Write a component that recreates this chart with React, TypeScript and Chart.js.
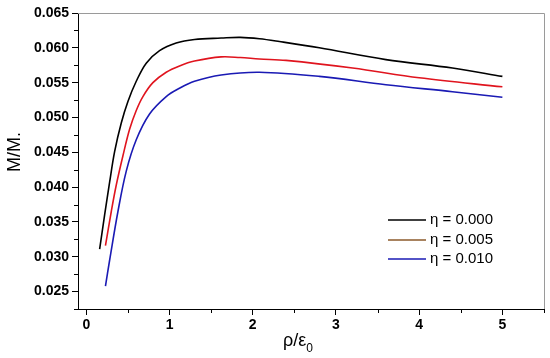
import React, { useEffect, useRef } from "react";
import { Chart, registerables } from "chart.js";

Chart.register(...registerables);

const seriesLabels = ["η = 0.000", "η = 0.005", "η = 0.010"];
const lineColors = ["#000000", "#e0141e", "#1a1ab4"];
const legendColors = ["#000000", "#8b5a2b", "#1a1ab4"];

const xEta000 = [0.16, 0.22, 0.28, 0.34, 0.42, 0.5, 0.6, 0.72, 0.88, 1.08, 1.3, 1.62, 1.85, 2.08, 2.32, 2.8, 3.6, 4.4, 5.0];
const yEta000 = [0.0311, 0.036, 0.0407, 0.0451, 0.0492, 0.0523, 0.0552, 0.0578, 0.0596, 0.0607, 0.0612, 0.0614, 0.0615, 0.0613, 0.0609, 0.06, 0.0583, 0.0571, 0.0559];

const xEta005 = [0.23, 0.3, 0.36, 0.44, 0.52, 0.6, 0.68, 0.8, 0.96, 1.12, 1.3, 1.62, 1.85, 2.08, 2.4, 3.2, 4.0, 5.0];
const yEta005 = [0.0316, 0.0365, 0.0403, 0.0445, 0.0483, 0.051, 0.053, 0.055, 0.0565, 0.0574, 0.0581, 0.0587, 0.0586, 0.0584, 0.0582, 0.0571, 0.0557, 0.0544];

const xEta010 = [0.23, 0.28, 0.38, 0.48, 0.6, 0.76, 0.96, 1.12, 1.3, 1.62, 2.08, 2.8, 3.6, 4.4, 5.0];
const yEta010 = [0.0258, 0.0295, 0.0365, 0.0423, 0.0468, 0.0505, 0.053, 0.0542, 0.0552, 0.0561, 0.0565, 0.0559, 0.0547, 0.0537, 0.0529];

const xMajorTicks = [0, 1, 2, 3, 4, 5];
const xMinorTicks = [0.5, 1.5, 2.5, 3.5, 4.5, 5.5];
const yMajorTicks = [0.025, 0.03, 0.035, 0.04, 0.045, 0.05, 0.055, 0.06, 0.065];
const yMinorTicks = [0.0225, 0.0275, 0.0325, 0.0375, 0.0425, 0.0475, 0.0525, 0.0575, 0.0625];

const xTitleMain = "ρ/ε";
const xTitleSub = "0";
const yTitle = "M/M.";

const FONT = "Arial, 'Liberation Sans', sans-serif";

function zip(xs: number[], ys: number[]) {
  return xs.map((x, i) => ({ x, y: ys[i] }));
}

const decorPlugin = {
  id: "decor",
  afterDraw(chart: any) {
    const ctx = chart.ctx;
    const { left, right, top, bottom } = chart.chartArea;
    const xs = chart.scales.x;
    const ys = chart.scales.y;
    ctx.save();
    ctx.strokeStyle = "#9a9a9a";
    ctx.lineWidth = 1;
    ctx.beginPath();
    ctx.moveTo(left, Math.round(top) + 0.5);
    ctx.lineTo(Math.round(right) + 0.5, Math.round(top) + 0.5);
    ctx.lineTo(Math.round(right) + 0.5, bottom);
    ctx.stroke();
    ctx.strokeStyle = "#000";
    ctx.beginPath();
    xMinorTicks.forEach((v) => {
      const px = Math.round(xs.getPixelForValue(v)) + 0.5;
      ctx.moveTo(px, bottom);
      ctx.lineTo(px, bottom + 4);
    });
    yMinorTicks.forEach((v) => {
      const py = Math.round(ys.getPixelForValue(v)) + 0.5;
      ctx.moveTo(left, py);
      ctx.lineTo(left - 4, py);
    });
    ctx.stroke();
    ctx.fillStyle = "#000";
    ctx.textBaseline = "alphabetic";
    ctx.font = `18px ${FONT}`;
    const wMain = ctx.measureText(xTitleMain).width;
    ctx.font = `12px ${FONT}`;
    const wSub = ctx.measureText(xTitleSub).width;
    const cx = 298;
    const startX = cx - (wMain + wSub) / 2;
    ctx.font = `18px ${FONT}`;
    ctx.textAlign = "left";
    ctx.fillText(xTitleMain, startX, 346);
    ctx.font = `12px ${FONT}`;
    ctx.fillText(xTitleSub, startX + wMain, 352);
    ctx.save();
    ctx.translate(20, 152);
    ctx.rotate(-Math.PI / 2);
    ctx.font = `18px ${FONT}`;
    ctx.textAlign = "center";
    ctx.fillText(yTitle, 0, 0);
    ctx.restore();
    const rows = [220, 240, 259];
    ctx.font = `15px ${FONT}`;
    ctx.textAlign = "left";
    ctx.textBaseline = "middle";
    chart.data.datasets.forEach((ds: any, i: number) => {
      ctx.strokeStyle = legendColors[i];
      ctx.lineWidth = 1.6;
      ctx.beginPath();
      ctx.moveTo(388, rows[i]);
      ctx.lineTo(426, rows[i]);
      ctx.stroke();
      ctx.fillStyle = "#000";
      ctx.fillText(ds.label, 430, rows[i]);
    });
    ctx.restore();
  },
};

export default function App() {
  const ref = useRef<HTMLCanvasElement | null>(null);
  useEffect(() => {
    document.body.style.margin = "0";
    if (!ref.current) return;
    const xsArr = [xEta000, xEta005, xEta010];
    const ysArr = [yEta000, yEta005, yEta010];
    const chart = new Chart(ref.current, {
      type: "line",
      data: {
        datasets: seriesLabels.map((label, i) => ({
          label,
          data: zip(xsArr[i], ysArr[i]),
          borderColor: lineColors[i],
          backgroundColor: lineColors[i],
          borderWidth: 1.6,
          pointRadius: 0,
          tension: 0.35,
          fill: false,
        })),
      },
      options: {
        animation: false,
        responsive: false,
        maintainAspectRatio: false,
        layout: { padding: { top: 13, right: 6, left: 0, bottom: 0 } },
        plugins: { legend: { display: false }, tooltip: { enabled: false } },
        scales: {
          x: {
            type: "linear",
            min: -0.1,
            max: 5.5,
            afterBuildTicks: (s: any) => {
              s.ticks = xMajorTicks.map((v) => ({ value: v }));
            },
            afterFit: (s: any) => {
              s.height = 49;
            },
            grid: { display: true, drawOnChartArea: false, drawTicks: true, tickLength: 6, color: "#000" },
            border: { display: true, color: "#000", width: 1 },
            ticks: {
              color: "#000",
              padding: 2,
              maxRotation: 0,
              font: { family: FONT, size: 14, weight: "bold" },
              callback: (v: any) => String(v),
            },
          },
          y: {
            type: "linear",
            min: 0.0225,
            max: 0.065,
            afterBuildTicks: (s: any) => {
              s.ticks = yMajorTicks.map((v) => ({ value: v }));
            },
            afterFit: (s: any) => {
              s.width = 78;
            },
            grid: { display: true, drawOnChartArea: false, drawTicks: true, tickLength: 6, color: "#000" },
            border: { display: true, color: "#000", width: 1 },
            ticks: {
              color: "#000",
              padding: 3,
              font: { family: FONT, size: 14, weight: "bold" },
              callback: (v: any) => Number(v).toFixed(3),
            },
          },
        },
      },
      plugins: [decorPlugin],
    });
    return () => chart.destroy();
  }, []);
  return (
    <div style={{ width: 550, height: 358, background: "#fff" }}>
      <canvas ref={ref} width={550} height={358} style={{ display: "block", width: 550, height: 358 }} />
    </div>
  );
}
